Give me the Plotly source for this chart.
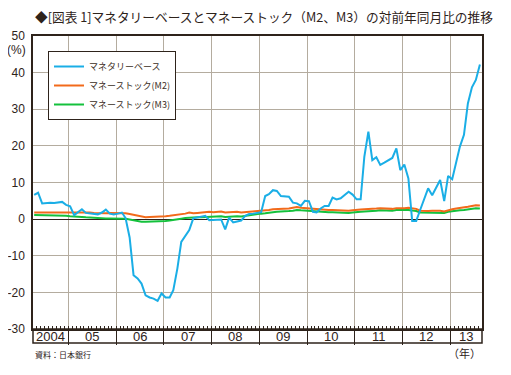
import pandas as pd
import plotly.graph_objects as go

# ---- data (monthly, Apr 2004 - Aug 2013, % y/y) ----
start_month = "2004-04-01"
n_months = 113

monetary_base = [
    6.6, 7.2, 4.3, 4.5, 4.5, 4.4, 4.5, 4.7, 3.9,
    3.5, 1.1, 1.8, 2.7, 1.7, 1.5, 1.4, 1.3, 1.8, 2.6, 1.5, 1.3,
    1.5, 1.8, 0.3, -5.0, -15.3, -16.2, -17.6, -20.8, -21.4, -21.7, -22.3, -20.3,
    -21.4, -21.4, -19.4, -13.5, -6.2, -4.6, -3.0, 0.2, 0.4, 0.7, 0.9, -0.3,
    -0.3, -0.2, -0.1, -2.8, 0.4, -0.9, -0.6, -0.4, 0.9, 1.4, 1.5, 1.7,
    1.9, 6.3, 6.8, 7.9, 7.7, 6.3, 6.2, 6.1, 4.5, 4.3, 3.6, 5.0,
    4.9, 2.0, 1.8, 2.9, 3.6, 3.6, 5.9, 5.4, 5.7, 6.5, 7.5, 6.7,
    5.4, 5.4, 17.0, 23.9, 16.1, 16.9, 14.8, 15.4, 16.0, 16.7, 19.3, 13.4,
    14.9, 11.1, -0.5, -0.5, 2.5, 5.8, 8.4, 6.5, 8.5, 10.7, 4.9, 11.8,
    10.9, 15.2, 19.8, 23.0, 31.6, 36.0, 38.0, 42.2,
]

m2 = [
    1.8, 1.8, 1.9, 1.9, 1.9, 2.0, 2.0, 2.0, 2.0,
    2.0, 2.0, 1.9, 1.9, 1.8, 1.8, 1.7, 1.6, 1.6, 1.6, 1.7, 1.7,
    1.7, 1.7, 1.6, 1.4, 1.2, 0.9, 0.6, 0.5, 0.6, 0.6, 0.7, 0.7,
    0.8, 0.9, 1.0, 1.1, 1.3, 1.5, 1.8, 1.6, 1.7, 1.8, 1.8, 2.0,
    1.9, 2.0, 2.1, 1.8, 1.9, 2.0, 2.0, 1.8, 1.9, 1.9, 2.0, 2.2,
    2.3, 2.3, 2.5, 2.7, 2.7, 2.8, 2.9, 2.9, 3.1, 3.3, 3.1, 3.0,
    3.0, 2.8, 2.7, 2.7, 2.6, 2.5, 2.5, 2.4, 2.3, 2.3, 2.3, 2.4,
    2.6, 2.6, 2.7, 2.7, 2.8, 2.9, 3.0, 2.9, 2.8, 2.8, 3.0, 3.1,
    3.0, 3.1, 3.0, 2.8, 2.3, 2.2, 2.2, 2.3, 2.4, 2.3, 2.1, 2.5,
    2.7, 2.9, 3.0, 3.1, 3.4, 3.6, 3.8, 3.7,
]

m3 = [
    1.1, 1.1, 1.0, 1.0, 1.0, 1.0, 0.9, 0.9, 0.9,
    0.8, 0.8, 0.7, 0.6, 0.5, 0.4, 0.3, 0.3, 0.2, 0.2, 0.2, 0.2,
    0.1, 0.1, 0.1, -0.1, -0.3, -0.5, -0.7, -0.7, -0.7, -0.6, -0.6, -0.6,
    -0.5, -0.4, -0.3, -0.1, 0.1, 0.3, 0.4, 0.4, 0.5, 0.5, 0.6, 0.6,
    0.6, 0.7, 0.8, 0.6, 0.7, 0.8, 0.8, 0.7, 0.9, 0.9, 1.1, 1.3,
    1.5, 1.6, 1.8, 1.9, 2.0, 2.0, 2.1, 2.2, 2.3, 2.5, 2.4, 2.3,
    2.3, 2.2, 2.1, 2.1, 2.0, 1.9, 1.9, 1.8, 1.8, 1.7, 1.7, 1.8,
    2.0, 2.0, 2.1, 2.1, 2.2, 2.3, 2.4, 2.3, 2.3, 2.3, 2.5, 2.6,
    2.5, 2.5, 2.4, 2.2, 1.8, 1.8, 1.8, 1.9, 1.9, 1.8, 1.7, 2.0,
    2.2, 2.3, 2.4, 2.5, 2.7, 2.9, 3.0, 2.9,
]

series_names = ["マネタリーベース", "マネーストック(M2)", "マネーストック(M3)"]
series_colors = ["#1aaee6", "#f26a1b", "#14c13c"]
year_labels = ["2004", "05", "06", "07", "08", "09", "10", "11", "12", "13"]
y_ticks = [-30, -20, -10, 0, 10, 20, 30, 40, 50]
y_tick_labels = ["-30", "-20", "-10", "0", "10", "20", "30", "40", "50"]

title_text = "◆[図表 1]マネタリーベースとマネーストック（M2、M3）の対前年同月比の推移"
source_text = "資料：日本銀行"
unit_text = "(%)"
year_unit_text = "（年）"

# ---- figure ----
dates = pd.date_range(start_month, periods=n_months, freq="MS") + pd.Timedelta(days=14)
x_start = pd.Timestamp("2004-04-06")
x_end = pd.Timestamp("2013-08-31")

DARK = "#2e231b"
GRID = "#b4ac9f"
JP = "Noto Sans CJK JP"
LAT = "Liberation Sans, Arial, sans-serif"

# the page body has an 8px margin: lay out in window pixels minus 8
OFF = 8
W, H = 511 - OFF, 375 - OFF
ml, mt = 33 - OFF, 36 - OFF
pw, ph = 449, 293
mr = W - ml - pw
mb = H - mt - ph
strip = 14 / ph


def px_x(px):
    return (px - OFF - ml) / pw


def px_y(py):
    return (mt + ph - (py - OFF)) / ph


fig = go.Figure()
for name, vals, col in reversed(list(zip(series_names, [monetary_base, m2, m3], series_colors))):
    fig.add_trace(go.Scatter(x=dates, y=vals, name=name, mode="lines",
                             line=dict(color=col, width=2)))

fig.update_layout(
    template="none",
    width=W, height=H,
    margin=dict(l=ml, r=mr, t=mt, b=mb, pad=0, autoexpand=False),
    paper_bgcolor="white", plot_bgcolor="white",
    showlegend=True,
    legend=dict(x=px_x(48), y=px_y(51), xanchor="left", yanchor="top",
                bgcolor="white", bordercolor=DARK, borderwidth=1,
                font=dict(family=JP, size=9, color="#3b2e25"),
                traceorder="reversed", tracegroupgap=0, itemwidth=30),
    font=dict(family=LAT, color=DARK),
)

fig.update_xaxes(
    type="date", range=[x_start, x_end], automargin=False,
    showgrid=True, gridcolor=GRID, gridwidth=1.3,
    tick0="2005-01-01", dtick="M12",
    ticks="outside", ticklen=14, tickwidth=1.3, tickcolor=DARK,
    showticklabels=False,
    showline=True, linecolor=DARK, linewidth=1.5, mirror=True,
    minor=dict(dtick="M1", tick0="2005-01-01", ticks="inside", ticklen=3,
               tickwidth=1, tickcolor=DARK, showgrid=False),
    zeroline=False,
)
fig.update_yaxes(
    range=[-30, 50], automargin=False, tickvals=y_ticks, ticktext=y_tick_labels,
    showgrid=True, gridcolor=GRID, gridwidth=1.3,
    zeroline=True, zerolinecolor=DARK, zerolinewidth=1.3,
    showline=True, linecolor=DARK, linewidth=1.5, mirror=True,
    ticks="", ticklabelstandoff=4,
    tickfont=dict(family=LAT, size=12, color=DARK),
)

# label strip under the plot
fig.add_shape(type="rect", xref="paper", yref="paper", x0=0, x1=1, y0=-strip, y1=0,
              line=dict(color=DARK, width=1.5), fillcolor="rgba(0,0,0,0)")

# year labels centred in each visible year section
bounds = [x_start] + [pd.Timestamp(f"{y}-01-01") for y in range(2005, 2014)] + [x_end]
for lab, a, b in zip(year_labels, bounds[:-1], bounds[1:]):
    mid = a + (b - a) / 2
    fig.add_annotation(x=mid, y=-strip / 2, xref="x", yref="paper", text=lab,
                       showarrow=False, xanchor="center", yanchor="middle",
                       font=dict(family=LAT, size=13, color=DARK))

# title, unit, source
fig.add_annotation(x=px_x(33), y=px_y(16), xref="paper", yref="paper",
                   text=title_text, showarrow=False, xanchor="left", yanchor="middle",
                   font=dict(family=JP, size=12.7, color=DARK))
fig.add_annotation(x=px_x(28), y=px_y(50), xref="paper", yref="paper",
                   text=unit_text, showarrow=False, xanchor="right", yanchor="middle",
                   font=dict(family=LAT, size=12, color=DARK))
fig.add_annotation(x=px_x(33), y=px_y(354), xref="paper", yref="paper",
                   text=source_text, showarrow=False, xanchor="left", yanchor="middle",
                   font=dict(family=JP, size=8, color=DARK))
fig.add_annotation(x=px_x(483), y=px_y(353), xref="paper", yref="paper",
                   text=year_unit_text, showarrow=False, xanchor="right", yanchor="middle",
                   font=dict(family=JP, size=11, color=DARK))

fig.write_html("out.html")
